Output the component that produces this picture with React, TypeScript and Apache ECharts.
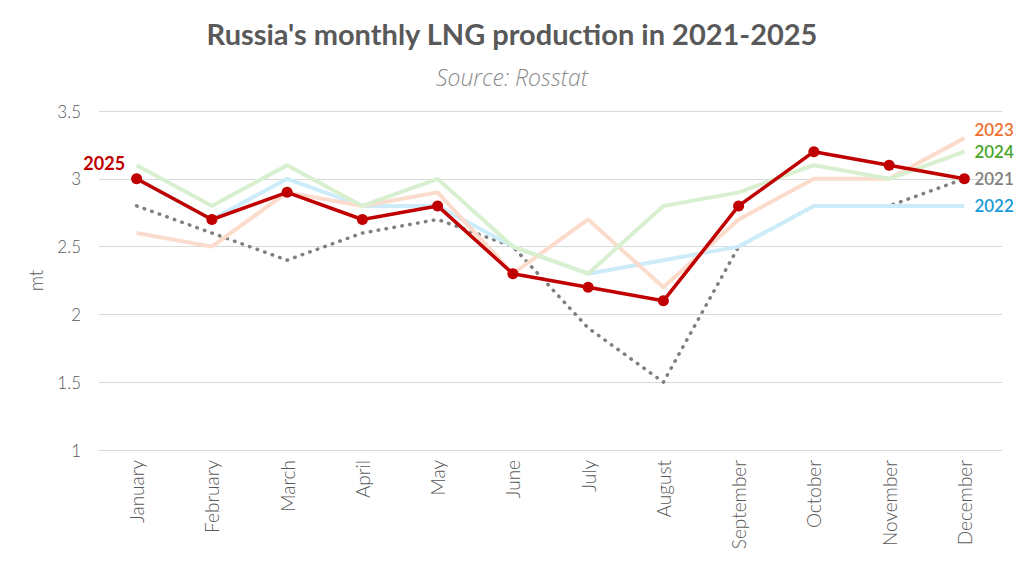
import React, { useEffect, useRef } from "react";
import * as echarts from "echarts";

const months = ["January", "February", "March", "April", "May", "June", "July", "August", "September", "October", "November", "December"];
const y2021 = [2.8, 2.6, 2.4, 2.6, 2.7, 2.5, 1.9, 1.5, 2.5, 2.8, 2.8, 3.0];
const y2022 = [3.0, 2.7, 3.0, 2.8, 2.8, 2.5, 2.3, 2.4, 2.5, 2.8, 2.8, 2.8];
const y2023 = [2.6, 2.5, 2.9, 2.8, 2.9, 2.3, 2.7, 2.2, 2.7, 3.0, 3.0, 3.3];
const y2024 = [3.1, 2.8, 3.1, 2.8, 3.0, 2.5, 2.3, 2.8, 2.9, 3.1, 3.0, 3.2];
const y2025 = [3.0, 2.7, 2.9, 2.7, 2.8, 2.3, 2.2, 2.1, 2.8, 3.2, 3.1, 3.0];

const FONT = "Lato, 'Open Sans', sans-serif";

export default function App() {
  const ref = useRef<HTMLDivElement>(null);
  useEffect(() => {
    document.body.style.margin = "0";
    if (!ref.current) return;
    const chart = echarts.init(ref.current, null, { renderer: "svg" });
    const light = (name: string, data: number[], color: string, labelColor: string, offsetY: number) => ({
      name,
      type: "line",
      data,
      showSymbol: false,
      symbol: "none",
      lineStyle: { color, width: 4 },
      itemStyle: { color },
      emphasis: { disabled: true },
      endLabel: {
        show: true,
        formatter: name,
        color: labelColor,
        fontFamily: FONT,
        fontSize: 17,
        fontWeight: 600,
        distance: 10,
        offset: [0, offsetY],
      },
    });
    chart.setOption({
      animation: false,
      title: [
        {
          text: "Russia's monthly LNG production in 2021-2025",
          left: "center",
          top: 14,
          textStyle: { fontFamily: FONT, fontSize: 29, fontWeight: "bold", color: "#595959" },
        },
        {
          text: "Source: Rosstat",
          left: "center",
          top: 60,
          textStyle: { fontFamily: "'Open Sans', Lato, sans-serif", fontSize: 23, fontStyle: "italic", fontWeight: 300, color: "#8c8c8c" },
        },
      ],
      grid: { left: 99, right: 22, top: 111, bottom: 135 },
      xAxis: {
        type: "category",
        data: months,
        boundaryGap: true,
        axisLine: { show: true, lineStyle: { color: "#d9d9d9", width: 1 } },
        axisTick: { show: false },
        axisLabel: {
          rotate: 90,
          interval: 0,
          margin: 10,
          color: "#595959",
          fontFamily: FONT,
          fontSize: 19,
          fontWeight: 300,
        },
      },
      yAxis: {
        type: "value",
        min: 1,
        max: 3.5,
        interval: 0.5,
        name: "mt",
        nameLocation: "middle",
        nameGap: 54,
        nameTextStyle: { color: "#595959", fontFamily: FONT, fontSize: 19, fontWeight: 300 },
        axisLine: { show: false },
        axisTick: { show: false },
        splitLine: { lineStyle: { color: "#d9d9d9", width: 1 } },
        axisLabel: { color: "#595959", fontFamily: FONT, fontSize: 17, fontWeight: 300, margin: 18 },
      },
      series: [
        {
          name: "2021",
          type: "line",
          data: y2021,
          showSymbol: false,
          symbol: "none",
          lineStyle: { color: "#7f7f7f", width: 3.5, type: [0.5, 7.5], cap: "round" },
          itemStyle: { color: "#7f7f7f" },
          emphasis: { disabled: true },
          endLabel: {
            show: true,
            formatter: "2021",
            color: "#7f7f7f",
            fontFamily: FONT,
            fontSize: 17,
            fontWeight: 600,
            distance: 10,
          },
        },
        light("2022", y2022, "#ccecf9", "#1a9bd7", 0),
        light("2023", y2023, "#fbdccc", "#f07030", -9),
        light("2024", y2024, "#d8f0d0", "#4aa52a", 0),
        {
          name: "2025",
          type: "line",
          data: y2025.map((v, i) =>
            i === 0
              ? {
                  value: v,
                  label: {
                    show: true,
                    formatter: "2025",
                    position: "left",
                    offset: [0, -16],
                    distance: 6,
                    color: "#c00000",
                    fontFamily: FONT,
                    fontSize: 18,
                    fontWeight: "bold",
                  },
                }
              : v
          ),
          symbol: "circle",
          symbolSize: 11,
          showSymbol: true,
          lineStyle: { color: "#c00000", width: 3.5 },
          itemStyle: { color: "#c00000" },
          emphasis: { disabled: true },
        },
      ],
    });
    return () => chart.dispose();
  }, []);
  return <div ref={ref} style={{ width: 1024, height: 585 }} />;
}
